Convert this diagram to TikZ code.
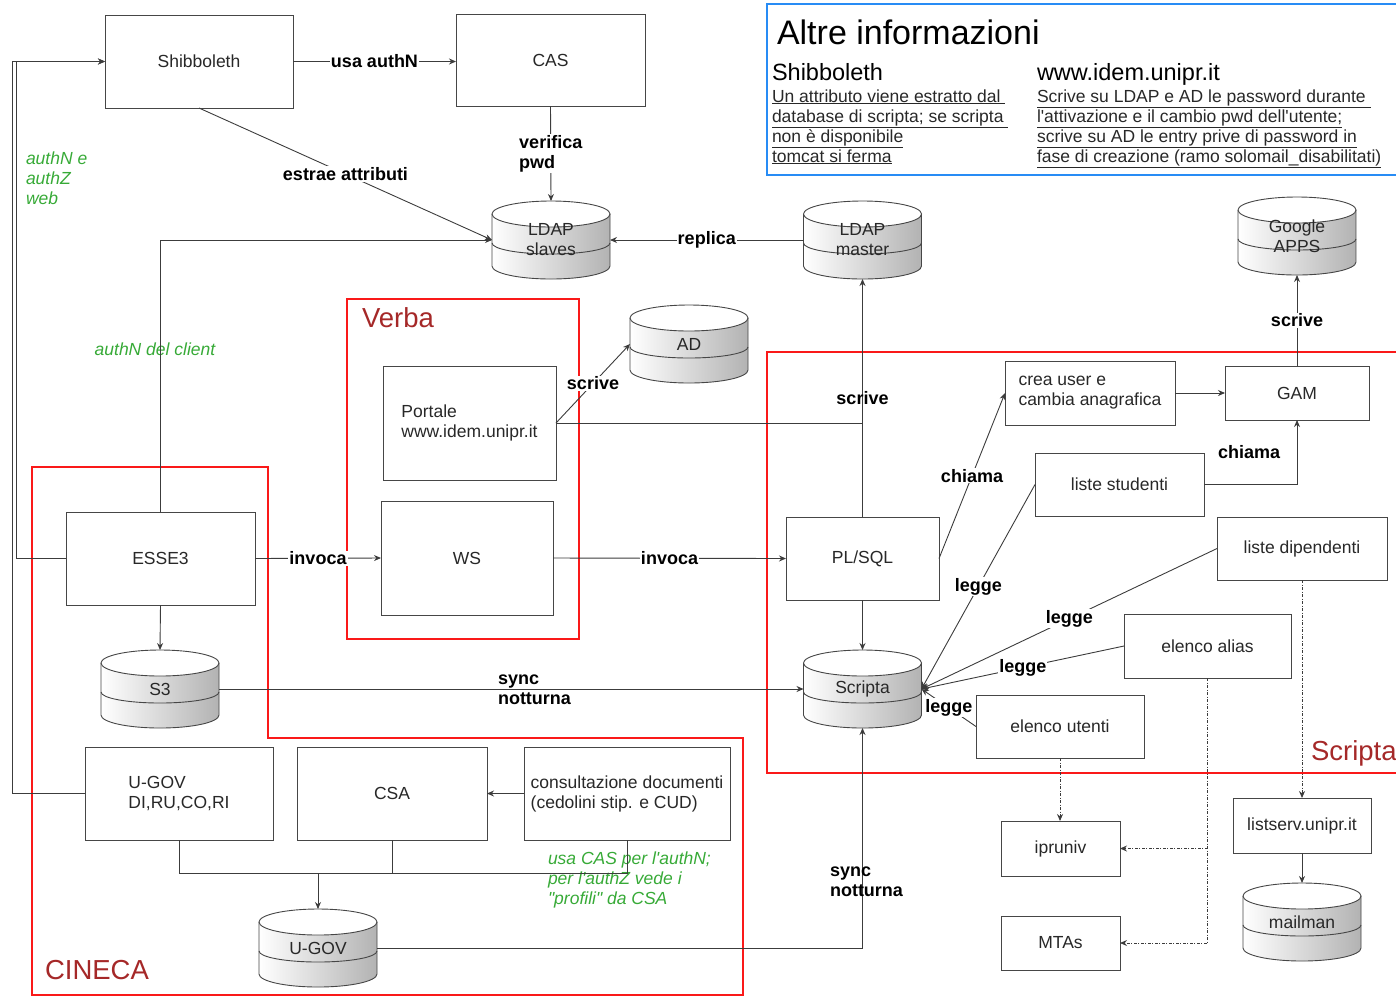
\documentclass[tikz,border=0pt]{standalone}
\usepackage{fontspec}
\setmainfont{Liberation Sans}[Ligatures=TeXOff]
\usetikzlibrary{arrows.meta}
\definecolor{boxline}{RGB}{70,70,70}
\definecolor{txt}{RGB}{40,40,40}
\definecolor{redbox}{RGB}{250,25,25}
\definecolor{redlab}{RGB}{165,40,40}
\definecolor{bluebox}{RGB}{40,140,245}
\definecolor{grn}{RGB}{55,170,55}
\definecolor{lnk}{RGB}{60,60,60}
\newcommand\dgNode{\fontsize{17.5}{20}\selectfont}
\newcommand\dgLab{\fontsize{18}{20}\selectfont\bfseries}
\newcommand\dgGreen{\fontsize{17.5}{20}\selectfont\itshape}
\newcommand\dgRed{\fontsize{27.5}{30}\selectfont}
\newcommand\dgCyl[1]{%
  \begin{scope}[shift={(#1)}]
    \shade[left color=white, right color=black!30, draw=none]
      (-59,-26) -- (-59,26) .. controls (-59,33.2) and (-32.6,39) .. (0,39)
      .. controls (32.6,39) and (59,33.2) .. (59,26) -- (59,-26) -- cycle;
    \fill[white] (0,-26) ellipse [x radius=59, y radius=13];
    \draw[boxline, line width=0.9pt] (0,-26) ellipse [x radius=59, y radius=13];
    \draw[boxline, line width=0.9pt]
      (-59,-26) -- (-59,26) .. controls (-59,33.2) and (-32.6,39) .. (0,39)
      .. controls (32.6,39) and (59,33.2) .. (59,26) -- (59,-26);
    \draw[boxline, line width=0.9pt]
      (-59,3) .. controls (-59,9.1) and (-32.6,14) .. (0,14)
      .. controls (32.6,14) and (59,9.1) .. (59,3);
  \end{scope}}
\begin{document}
\begin{tikzpicture}[x=1pt,y=-1pt,
  every node/.style={inner sep=0pt, outer sep=0pt},
  box/.style={rectangle, draw=boxline, line width=1pt, fill=white, font=\dgNode, text=txt, align=left},
  db/.style={rectangle, minimum width=118pt, minimum height=78pt, font=\dgNode, text=txt, align=center},
  conn/.style={draw=lnk, line width=0.9pt},
  arr/.style={conn, -{Stealth[length=7pt,width=6pt]}},
  dotarr/.style={arr, dash pattern=on 3pt off 1.5pt on 1pt off 1.5pt},
  lab/.style={font=\dgLab, text=black, fill=white, inner sep=1pt, align=left},
  labnf/.style={font=\dgLab, text=black, inner sep=1pt, align=left},
  green/.style={font=\dgGreen, text=grn, align=left},
  redr/.style={draw=redbox, line width=2pt},
  redl/.style={font=\dgRed, text=redlab},
  info/.style={font=\dgNode, text=txt, anchor=base west}]
\useasboundingbox (0,0) rectangle (1396,997);

% ---- region frames ----
\draw[redr] (347,299) rectangle (579,639);
\draw[redr] (1400,352) -- (767,352) -- (767,773) -- (1400,773);
\draw[redr] (32,467) -- (268,467) -- (268,738) -- (743,738) -- (743,995) -- (32,995) -- cycle;
\draw[draw=bluebox, line width=2pt] (1400,4) -- (767,4) -- (767,175) -- (1400,175);

\node[redl, anchor=west] (lverba) at (362,318) {Verba};
\node[redl, anchor=west] (lcineca) at (45,970) {CINECA};
\node[redl, anchor=west] (lscripta) at (1311,753) {Scripta};

% ---- info box ----
\node[font=\fontsize{34}{36}\selectfont, text=black, anchor=base west] (ititle) at (777,44) {Altre informazioni};
\node[font=\fontsize{23.5}{26}\selectfont, text=black, anchor=base west] (ishib) at (772,80.5) {Shibboleth};
\node[font=\fontsize{23.5}{26}\selectfont, text=black, anchor=base west] (iidem) at (1037,80.5) {www.idem.unipr.it};
\node[info] (is1) at (772,102) {\underline{Un attributo viene estratto dal\ }};
\node[info] (is2) at (772,122) {\underline{database di scripta; se scripta\ }};
\node[info] (is3) at (772,142) {\underline{non è disponibile}};
\node[info] (is4) at (772,162) {\underline{tomcat si ferma}};
\node[info] (ii1) at (1037,102) {\underline{Scrive su LDAP e AD le password durante\ }};
\node[info] (ii2) at (1037,122) {\underline{l'attivazione e il cambio pwd dell'utente;}};
\node[info] (ii3) at (1037,142) {\underline{scrive su AD le entry prive di password in}};
\node[info] (ii4) at (1037,162) {\underline{fase di creazione (ramo solomail\_disabilitati)}};

% ---- cylinders (drawn shapes) ----
\dgCyl{551,240}
\dgCyl{862.5,240}
\dgCyl{1297,236}
\dgCyl{689,344}
\dgCyl{160,689}
\dgCyl{862.5,689}
\dgCyl{1302,922}
\dgCyl{318,948}

% ---- nodes ----
\node[box, minimum width=188pt, minimum height=93pt] (shib) at (199,61.5) {Shibboleth};
\node[box, minimum width=189pt, minimum height=92pt] (cas) at (550.5,60) {CAS};
\node[db] (ldaps) at (551,240) {LDAP\\slaves};
\node[db] (ldapm) at (862.5,240) {LDAP\\master};
\node[db] (gapps) at (1297,236) {Google\\APPS};
\node[db] (ad) at (689,344) {AD};
\node[box, minimum width=173pt, minimum height=114pt] (portale) at (469.5,423) {Portale\\www.idem.unipr.it};
\node[box, minimum width=172pt, minimum height=114pt] (ws) at (467,558) {WS};
\node[box, minimum width=189pt, minimum height=93pt] (esse3) at (160.5,558.5) {ESSE3};
\node[box, minimum width=153pt, minimum height=83pt] (plsql) at (862.5,558.5) {PL/SQL};
\node[db] (s3) at (160,689) {S3};
\node[db] (scripta) at (862.5,689) {Scripta};
\node[box, minimum width=170pt, minimum height=64pt] (crea) at (1090,393) {crea user e\\cambia anagrafica};
\node[box, minimum width=144pt, minimum height=54pt] (gam) at (1297,393) {GAM};
\node[box, minimum width=169pt, minimum height=63pt] (lstud) at (1119.5,484.5) {liste studenti};
\node[box, minimum width=170pt, minimum height=63pt] (ldip) at (1302,548.5) {liste dipendenti};
\node[box, minimum width=167pt, minimum height=64pt] (ealias) at (1207.5,646) {elenco alias};
\node[box, minimum width=168pt, minimum height=63pt] (eutenti) at (1060,726.5) {elenco utenti};
\node[box, minimum width=119pt, minimum height=55pt] (ipruniv) at (1060.5,848.5) {ipruniv};
\node[box, minimum width=119pt, minimum height=54pt] (mtas) at (1060.5,943) {MTAs};
\node[box, minimum width=138pt, minimum height=55pt] (listserv) at (1302,825.5) {listserv.unipr.it};
\node[db] (mailman) at (1302,922) {mailman};
\node[box, minimum width=188pt, minimum height=93pt] (ugov) at (179,793.5) {U-GOV\\DI,RU,CO,RI};
\node[box, minimum width=190pt, minimum height=93pt] (csa) at (392,793.5) {CSA};
\node[box, minimum width=206pt, minimum height=93pt] (consult) at (627,793.5) {consultazione documenti\\(cedolini stip. e CUD)};
\node[db] (ugovdb) at (318,948) {U-GOV};

% ---- green notes ----
\node[green, anchor=west] (gweb) at (26,178) {authN e\\authZ\\web};
\node[green] (gclient) at (155,349) {authN del client};
\node[green, anchor=west] (gcas) at (548,880) {usa CAS per l'authN;\\per l'authZ vede i\\"profili" da CSA};

% ---- connectors ----
\coordinate (lxa) at (16,0);
\coordinate (lxb) at (12,0);
\coordinate (bus) at (0,873);

\draw[arr] (shib.east) -- (shib.east -| cas.west) node[lab, midway] {usa authN};
\draw[arr] (shib.south) -- (ldaps.west) node[lab, midway] {estrae attributi};
\draw[arr] (cas.south) -- (ldaps.north) node[lab, midway] {verifica\\pwd};
\draw[arr] (ldapm.west) -- (ldaps.east) node[lab, midway] {replica};
\draw[arr] (esse3.north) |- (ldaps.west);
\draw[arr] (esse3.west) -- (esse3.west -| lxa) |- (shib.west);
\draw[arr] (ugov.west) -- (ugov.west -| lxb) |- (shib.west);
\draw[arr] (esse3.east) -- (ws.west) node[lab, midway] {invoca};
\draw[arr] (ws.east) -- (plsql.west) node[lab, midway] {invoca};
\draw[arr] (portale.east) -- (ad.west) node[lab, midway] {scrive};
\draw[conn] (portale.east) -- (portale.east -| ldapm.south);
\draw[arr] (plsql.north) -- (ldapm.south) node[labnf, midway] {scrive};
\draw[arr] (esse3.south) -- (s3.north);
\draw[arr] (s3.east) -- (scripta.west);
\node[labnf, anchor=west] (lsync1) at (497,690) {sync\\notturna};
\draw[arr] (plsql.south) -- (scripta.north);
\draw[arr] (ugovdb.east) -| (scripta.south);
\node[labnf, anchor=west] (lsync2) at (829,882) {sync\\notturna};
\draw[arr] (plsql.east) -- (crea.west) node[lab, midway] {chiama};
\draw[arr] (crea.east) -- (gam.west);
\draw[arr] (gam.north) -- (gapps.south) node[lab, midway] {scrive};
\draw[arr] (lstud.east) -| (gam.south);
\node[labnf] (lchiama2) at (1249,452) {chiama};
\draw[arr] (lstud.west) -- (scripta.east) node[lab, midway] {legge};
\draw[arr] (ldip.west) -- (scripta.east) node[lab, midway] {legge};
\draw[arr] (ealias.west) -- (scripta.east) node[lab, midway] {legge};
\draw[arr] (eutenti.west) -- (scripta.east) node[lab, midway] {legge};
\draw[dotarr] (eutenti.south) -- (eutenti.south |- ipruniv.north);
\draw[dotarr] (ealias.south) |- (mtas.east);
\draw[dotarr] (ealias.south |- ipruniv.east) -- (ipruniv.east);
\draw[dotarr] (ldip.south) -- (listserv.north);
\draw[arr] (listserv.south) -- (mailman.north);
\draw[arr] (consult.west) -- (csa.east);
\draw[conn] (ugov.south) -- (ugov.south |- bus) -- (consult.south |- bus) -- (consult.south);
\draw[conn] (csa.south) -- (csa.south |- bus);
\draw[arr] (ugovdb.north |- bus) -- (ugovdb.north);
\end{tikzpicture}
\end{document}
